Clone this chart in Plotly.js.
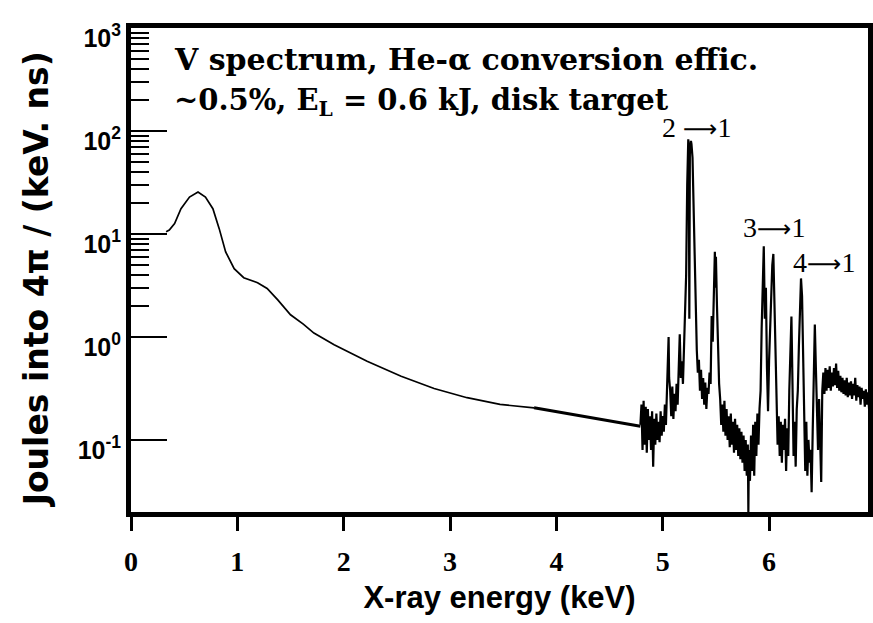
<!DOCTYPE html>
<html>
<head>
<meta charset="utf-8">
<script src="https://cdn.plot.ly/plotly-3.0.1.min.js"></script>
<style>html,body{margin:0;padding:0;background:#fff;}#chart{width:873px;height:623px;}</style>
</head>
<body>
<div id="chart"></div>
<script>
// Continuum (smooth part of the spectrum), keV and J/(keV ns)
const contE = [0.33,0.36,0.41,0.47,0.55,0.63,0.70,0.77,0.83,0.89,0.97,1.06,1.19,1.28,1.38,1.50,1.62,1.72,1.91,2.22,2.54,2.85,3.16,3.47,3.79];
const contJ = [10.5,10.9,12.6,17.6,22.8,25.5,22.8,17.6,11.2,6.7,4.6,3.76,3.36,2.96,2.29,1.64,1.33,1.09,0.84,0.58,0.415,0.316,0.257,0.221,0.205];

// Straight connecting segment
const gapE = [3.79,4.79];
const gapJ = [0.205,0.136];

// Line region (noisy, high resolution part)
const lineE = [4.79,4.80,4.81,4.82,4.83,4.84,4.85,4.86,4.87,4.88,4.89,4.90,4.91,4.92,4.93,4.94,4.95,4.96,4.97,4.98,4.99,5.00,5.01,5.02,5.03,
  5.04,5.05,5.055,5.06,5.07,5.08,5.09,5.10,5.11,5.12,5.13,5.14,5.15,5.16,5.17,5.18,5.19,5.20,5.21,5.22,
  5.23,5.24,5.245,5.25,5.255,5.265,5.27,5.28,5.29,5.30,5.31,5.32,5.33,5.34,5.35,5.36,5.37,5.38,5.39,5.40,5.41,5.42,5.43,5.44,5.45,
  5.46,5.47,5.48,5.49,5.495,5.50,5.51,5.52,5.53,
  5.54,5.55,5.56,5.57,5.58,5.59,5.60,5.61,5.62,5.63,5.64,5.65,5.66,5.67,5.68,5.69,5.70,5.71,5.72,5.73,5.74,5.75,5.76,5.77,5.78,5.79,5.80,5.805,5.81,5.82,5.83,5.84,5.85,5.86,5.87,5.88,5.89,5.90,5.91,5.92,5.93,
  5.95,5.96,5.97,5.98,5.99,6.00,6.01,6.02,6.03,6.04,6.05,6.06,6.07,
  6.08,6.09,6.10,6.11,6.12,6.13,6.14,6.15,6.16,6.17,6.18,6.19,6.21,6.22,6.23,6.24,6.25,6.26,6.27,6.28,6.29,6.30,6.31,6.32,6.33,6.34,6.35,6.36,6.37,6.38,6.39,6.40,6.41,6.42,6.43,6.44,6.45,6.46,6.47,6.48,6.49,6.50,
  6.51,6.52,6.53,6.54,6.55,6.56,6.57,6.58,6.59,6.60,6.61,6.62,6.63,6.64,6.65,6.66,6.67,6.68,6.69,6.70,6.71,6.72,6.73,6.74,6.75,6.76,6.77,6.78,6.79,6.80,6.81,6.82,6.83,6.84,6.85,6.86,6.87,6.88,6.89,6.90,6.91,6.92,6.93,6.94,6.95];
const lineJ = [0.14,0.22,0.08,0.24,0.09,0.21,0.075,0.20,0.10,0.17,0.08,0.19,0.055,0.16,0.09,0.18,0.10,0.15,0.095,0.19,0.11,0.17,0.12,0.22,0.14,
  0.30,0.55,1.0,0.40,0.30,0.17,0.33,0.16,0.28,0.19,0.35,0.22,0.45,1.06,0.40,0.58,0.35,0.9,2.0,4.0,
  30,83,70,1.5,60,80,75,55,20,5,1.65,0.75,0.45,0.60,0.30,0.48,0.25,0.40,0.22,0.36,0.20,0.32,0.28,0.45,0.35,
  1.6,0.9,2.5,6.7,3.0,6.0,2.0,0.6,0.35,
  0.25,0.14,0.22,0.12,0.24,0.11,0.20,0.10,0.17,0.085,0.18,0.09,0.15,0.075,0.16,0.08,0.14,0.07,0.13,0.065,0.12,0.06,0.11,0.05,0.10,0.045,0.09,0.02,0.08,0.04,0.11,0.05,0.14,0.045,0.15,0.07,0.18,0.09,0.20,0.30,1.2,
  7.6,1.5,3.0,0.5,0.19,0.6,1.2,3.5,5.0,6.4,2.0,0.5,0.18,
  0.09,0.17,0.07,0.15,0.06,0.14,0.08,0.16,0.05,0.13,0.07,0.30,1.58,0.35,0.07,0.15,0.055,0.20,0.30,0.8,2.0,3.7,2.5,0.6,0.12,0.05,0.15,0.045,0.10,0.06,0.08,0.031,0.12,0.40,1.32,0.50,0.20,0.08,0.25,0.10,0.039,0.30,
  0.45,0.28,0.50,0.30,0.48,0.32,0.52,0.30,0.45,0.33,0.50,0.34,0.55,0.32,0.47,0.30,0.42,0.29,0.40,0.28,0.38,0.27,0.40,0.26,0.36,0.27,0.37,0.25,0.35,0.27,0.40,0.24,0.34,0.26,0.33,0.22,0.32,0.25,0.30,0.21,0.31,0.22,0.29,0.20,0.27];

const yTickVals = [0.1,1,10,100,1000];
const yTickText = ['10<sup>-1</sup>','10<sup>0</sup>','10<sup>1</sup>','10<sup>2</sup>','10<sup>3</sup>'];
const yMinorVals = [2,3,4,5,6,7,8,9,20,30,40,50,60,70,80,90,200,300,400,500,600,700,800,900];
const xTickVals = [0,1,2,3,4,5,6];
const xTickText = ['0','1','2','3','4','5','6'];

const traces = [
  {x: contE, y: contJ, mode:'lines', line:{color:'#000', width:1.7}, hoverinfo:'skip'},
  {x: gapE, y: gapJ, mode:'lines', line:{color:'#000', width:3}, hoverinfo:'skip'},
  {x: lineE, y: lineJ, mode:'lines', line:{color:'#000', width:2.2}, hoverinfo:'skip'}
];

const serif = 'Liberation Serif, Times New Roman, serif';
const sans = 'Liberation Sans, Arial, sans-serif';
const arrow = '<span style="font-family:DejaVu Sans;font-size:24px">⟶</span>';

const layout = {
  width: 873, height: 623,
  margin: {l:131, r:5, t:28, b:111},
  paper_bgcolor:'#fff', plot_bgcolor:'#fff',
  showlegend:false,
  xaxis: {
    range:[0,6.93], showgrid:false, zeroline:false,
    showline:true, linewidth:5, linecolor:'#000', mirror:true,
    ticks:'outside', ticklen:14, tickwidth:3, tickcolor:'#000',
    tickmode:'array', tickvals:xTickVals, ticktext:xTickText,
    ticklabelstandoff:6,
    tickfont:{family:serif, size:28, color:'#000', weight:'bold'},
    title:{text:'<b>X-ray energy (keV)</b>', font:{family:sans, size:31, color:'#000'}, standoff:12}
  },
  yaxis: {
    type:'log', range:[-1.7,3], showgrid:false, zeroline:false,
    showline:true, linewidth:5, linecolor:'#000', mirror:true,
    ticks:'inside', ticklen:36, tickwidth:2.5, tickcolor:'#000',
    tickmode:'array', tickvals:yTickVals, ticktext:yTickText,
    ticklabelshift:10,
    minor:{tickmode:'array', tickvals:yMinorVals, ticks:'inside', ticklen:18, tickwidth:2, tickcolor:'#000'},
    tickfont:{family:sans, size:25, color:'#000', weight:'bold'}
  },
  annotations: [
    {xref:'paper', yref:'paper', x:-0.128, y:0.48, xanchor:'center', yanchor:'middle', textangle:-90, showarrow:false,
     text:'<b>Joules into 4π / (keV. ns)</b>', font:{family:'DejaVu Sans, sans-serif', size:33, color:'#000'}},
    {xref:'x', yref:'y', x:0.385, y:2.69, xanchor:'left', yanchor:'middle', showarrow:false,
     text:'<b>V spectrum, He-α conversion effic.</b>', font:{family:'DejaVu Serif, serif', size:30, color:'#000'}},
    {xref:'x', yref:'y', x:0.385, y:2.28, xanchor:'left', yanchor:'middle', showarrow:false,
     text:'<b>~0.5%, E<sub>L</sub> = 0.6 kJ, disk target</b>', font:{family:'DejaVu Serif, serif', size:29, color:'#000'}},
    {xref:'x', yref:'y', x:5.32, y:2.03, showarrow:false, text:'2 '+arrow+'1', font:{family:serif, size:28, color:'#000'}},
    {xref:'x', yref:'y', x:6.05, y:1.06, showarrow:false, text:'3'+arrow+'1', font:{family:serif, size:28, color:'#000'}},
    {xref:'x', yref:'y', x:6.52, y:0.72, showarrow:false, text:'4'+arrow+'1', font:{family:serif, size:28, color:'#000'}}
  ]
};

Plotly.newPlot('chart', traces, layout, {displayModeBar:false, staticPlot:true});
</script>
</body>
</html>
